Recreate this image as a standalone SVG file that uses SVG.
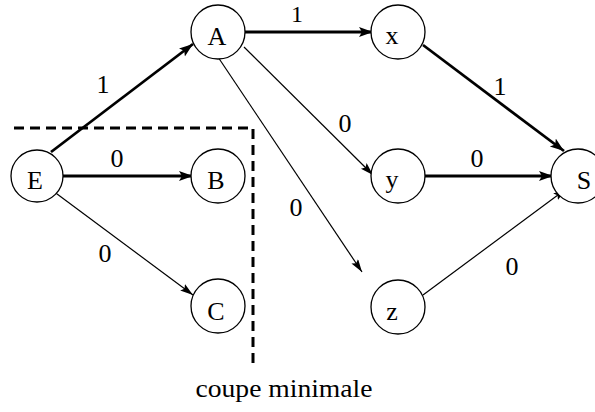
<svg xmlns="http://www.w3.org/2000/svg" width="595" height="412" viewBox="0 0 595 412">
<style>
.node circle{fill:#fff;stroke:#000;stroke-width:1.3}
text{font-family:"Liberation Serif","DejaVu Serif",serif;font-size:26px;fill:#000;text-anchor:middle}
.thick{stroke:#000;stroke-width:2.8;fill:none}
.thin{stroke:#000;stroke-width:1.2;fill:none}
.cut{stroke:#000;stroke-width:3;fill:none;stroke-dasharray:10 6}
</style>
<defs>
<marker id="ah" markerUnits="userSpaceOnUse" markerWidth="16" markerHeight="12" refX="14" refY="5" orient="auto">
<path d="M0,0 L14,5 L0,10 L3,5 Z" fill="#000"/>
</marker>
<marker id="ahs" markerUnits="userSpaceOnUse" markerWidth="16" markerHeight="12" refX="13" refY="4" orient="auto">
<path d="M0,0 L13,4 L0,8 L2.5,4 Z" fill="#000"/>
</marker>
</defs>
<g id="connectors">
<line class="thick" x1="51" y1="152" x2="193" y2="44" marker-end="url(#ah)"/>
<line class="thick" x1="63" y1="176" x2="193" y2="176" marker-end="url(#ah)"/>
<line class="thin" x1="49" y1="188" x2="193" y2="295" marker-end="url(#ahs)"/>
<line class="thick" x1="245" y1="32" x2="373" y2="32" marker-end="url(#ah)"/>
<line class="thin" x1="244" y1="47" x2="373" y2="175" marker-end="url(#ahs)"/>
<line class="thin" x1="218" y1="57" x2="362" y2="272" marker-end="url(#ahs)"/>
<line class="thick" x1="423" y1="45" x2="564" y2="151" marker-end="url(#ah)"/>
<line class="thick" x1="424" y1="176" x2="553" y2="176" marker-end="url(#ah)"/>
<line class="thin" x1="423" y1="295" x2="566" y2="189" marker-end="url(#ahs)"/>
<text x="103" y="93">1</text>
<text x="117" y="167">0</text>
<text x="105" y="262">0</text>
<text x="297" y="22" style="font-size:24px">1</text>
<text x="345" y="132">0</text>
<text x="296" y="216">0</text>
<text x="500" y="95">1</text>
<text x="477" y="167">0</text>
<text x="512" y="275">0</text>
</g>
<g id="cut">
<polyline class="cut" points="14,128 253,128 253,368"/>
<text x="284" y="397" textLength="177" lengthAdjust="spacingAndGlyphs">coupe minimale</text>
</g>
<g id="node-A" class="node"><circle cx="218" cy="32" r="27"/><text x="217" y="45">A</text></g>
<g id="node-E" class="node"><circle cx="37" cy="176" r="26"/><text x="35" y="189">E</text></g>
<g id="node-B" class="node"><circle cx="218" cy="176" r="27"/><text x="216" y="189">B</text></g>
<g id="node-C" class="node"><circle cx="218" cy="306" r="27"/><text x="216" y="320">C</text></g>
<g id="node-x" class="node"><circle cx="398" cy="32" r="27"/><text x="392" y="44">x</text></g>
<g id="node-y" class="node"><circle cx="398" cy="176" r="27"/><text x="392" y="188">y</text></g>
<g id="node-z" class="node"><circle cx="398" cy="307" r="27"/><text x="392" y="320">z</text></g>
<g id="node-S" class="node"><circle cx="578" cy="176" r="27"/><text x="584" y="189">S</text></g>
</svg>
